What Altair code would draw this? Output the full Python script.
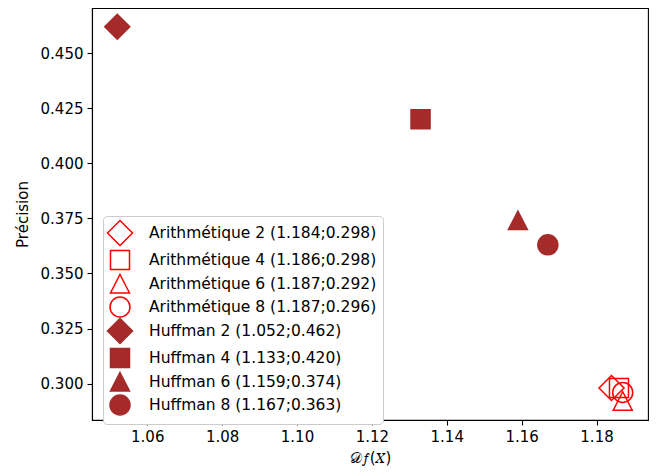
import altair as alt
import pandas as pd

labels = [
    "Arithmétique 2 (1.184;0.298)",
    "Arithmétique 4 (1.186;0.298)",
    "Arithmétique 6 (1.187;0.292)",
    "Arithmétique 8 (1.187;0.296)",
    "Huffman 2 (1.052;0.462)",
    "Huffman 4 (1.133;0.420)",
    "Huffman 6 (1.159;0.374)",
    "Huffman 8 (1.167;0.363)",
]
dfx = [1.184, 1.186, 1.187, 1.187, 1.052, 1.133, 1.159, 1.167]
precision = [0.298, 0.298, 0.292, 0.296, 0.462, 0.420, 0.374, 0.363]

x_ticks = [1.06, 1.08, 1.10, 1.12, 1.14, 1.16, 1.18]
y_ticks = [0.300, 0.325, 0.350, 0.375, 0.400, 0.425, 0.450]

RED = "#ff0000"
BROWN = "#a52a2a"
DIAMOND = "M-1.25,0L0,-1.25L1.25,0L0,1.25Z"
SQUARE = "M-0.95,-0.95L0.95,-0.95L0.95,0.95L-0.95,0.95Z"
TRIANGLE = "M0,-0.95L0.95,0.9L-0.95,0.9Z"
CIRCLE = "circle"
shapes = [DIAMOND, SQUARE, TRIANGLE, CIRCLE] * 2
strokes = [RED] * 4 + [BROWN] * 4
fills = ["transparent"] * 4 + [BROWN] * 4

df = pd.DataFrame({"label": labels, "x": dfx, "y": precision})

chart = alt.Chart(df).mark_point(strokeWidth=1.5, opacity=1, size=400).encode(
    x=alt.X("x:Q", title="𝒟𝑓(𝑋)",
            scale=alt.Scale(domain=[1.04525, 1.19375], nice=False, zero=False),
            axis=alt.Axis(values=x_ticks, format=".2f")),
    y=alt.Y("y:Q", title="Précision",
            scale=alt.Scale(domain=[0.2835, 0.4705], nice=False, zero=False),
            axis=alt.Axis(values=y_ticks, format=".3f")),
    shape=alt.Shape("label:N", scale=alt.Scale(domain=labels, range=shapes), title=None),
    stroke=alt.Stroke("label:N", scale=alt.Scale(domain=labels, range=strokes), title=None),
    fill=alt.Fill("label:N", scale=alt.Scale(domain=labels, range=fills), title=None),
).properties(
    width=556,
    height=412,
    autosize=alt.AutoSizeParams(type="none"),
    padding={"left": 84, "top": 0, "right": 1, "bottom": 50},
).configure_view(
    stroke="black", strokeWidth=1.1
).configure_axis(
    grid=False,
    domainColor="black",
    domainWidth=1.1,
    tickColor="black",
    tickSize=5,
    tickWidth=1.1,
    labelFont="DejaVu Sans",
    labelFontSize=15,
    labelColor="black",
    labelPadding=4,
    titleFont="DejaVu Sans",
    titleFontSize=15,
    titleFontWeight="normal",
    titleColor="black",
).configure_axisX(
    titlePadding=6,
).configure_axisY(
    titlePadding=10,
).configure_legend(
    orient="none",
    legendX=11,
    legendY=208,
    padding=6,
    fillColor="white",
    strokeColor="#cccccc",
    cornerRadius=4,
    labelFont="DejaVu Sans",
    labelFontSize=15.5,
    labelColor="black",
    labelOffset=18,
    symbolSize=400,
    symbolStrokeWidth=1.5,
    rowPadding=-10,
    labelLimit=400,
)

chart.save("out.html", embed_options={"renderer": "svg", "actions": False})
